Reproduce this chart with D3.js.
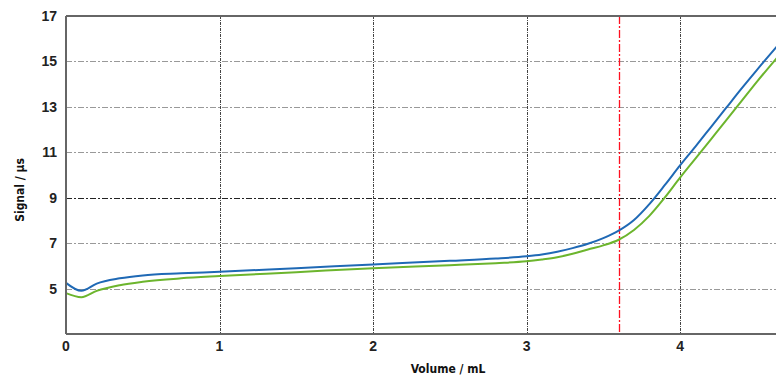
<!DOCTYPE html>
<html>
<head>
<meta charset="utf-8">
<script src="https://cdn.jsdelivr.net/npm/d3@7"></script>
<style>
  body { margin: 0; background: #fff; }
  text { font-family: "Liberation Sans", Arial, sans-serif; }
</style>
</head>
<body>
<div id="chart"></div>
<script>
const WIDTH = 776;
const HEIGHT = 376;

// volume (mL) and the two signal traces (µs)
const volumes = [0, 0.1, 0.2, 0.35, 0.5, 0.75, 1.0, 1.5, 2.0, 2.5, 2.8, 3.0, 3.1, 3.2, 3.3, 3.4, 3.5, 3.6, 3.7, 3.8, 3.9, 4.0, 4.1, 4.2, 4.3, 4.4, 4.5, 4.63];
const blueSignal = [5.25, 4.9, 5.22, 5.45, 5.58, 5.67, 5.74, 5.9, 6.06, 6.22, 6.32, 6.42, 6.5, 6.62, 6.78, 6.97, 7.22, 7.55, 8.02, 8.72, 9.55, 10.42, 11.25, 12.1, 12.95, 13.8, 14.62, 15.65];
const greenSignal = [4.8, 4.62, 4.9, 5.15, 5.3, 5.45, 5.55, 5.72, 5.9, 6.03, 6.12, 6.2, 6.28, 6.38, 6.53, 6.72, 6.9, 7.15, 7.58, 8.2, 9.0, 9.88, 10.72, 11.56, 12.4, 13.25, 14.1, 15.15];

const xTicks = [0, 1, 2, 3, 4];
const yTicks = [5, 7, 9, 11, 13, 15, 17];
const endpointVolume = 3.6;

const margin = {top: 16, right: 0, bottom: 42, left: 66};

const svg = d3.select("#chart")
  .append("svg")
  .attr("width", WIDTH)
  .attr("height", HEIGHT);

const x = d3.scaleLinear()
  .domain([0, 4.625])
  .range([margin.left, WIDTH - margin.right]);

const y = d3.scaleLinear()
  .domain([3, 17])
  .range([HEIGHT - margin.bottom, margin.top]);

// horizontal grid
svg.append("g")
  .selectAll("line")
  .data(yTicks.filter(d => d !== 17))
  .join("line")
  .attr("x1", x(0))
  .attr("x2", WIDTH)
  .attr("y1", d => Math.round(y(d)) + 0.5)
  .attr("y2", d => Math.round(y(d)) + 0.5)
  .attr("stroke", d => d === 9 ? "#222" : "#999")
  .attr("stroke-width", 1)
  .attr("stroke-dasharray", "6,2,2,2");

// vertical grid
svg.append("g")
  .selectAll("line")
  .data(xTicks.filter(d => d !== 0))
  .join("line")
  .attr("x1", d => Math.round(x(d)) + 0.5)
  .attr("x2", d => Math.round(x(d)) + 0.5)
  .attr("y1", y(17))
  .attr("y2", y(3))
  .attr("stroke", "#444")
  .attr("stroke-width", 1)
  .attr("stroke-dasharray", "3,1,1,1");

// endpoint marker
svg.append("line")
  .attr("x1", Math.round(x(endpointVolume)) + 0.5)
  .attr("x2", Math.round(x(endpointVolume)) + 0.5)
  .attr("y1", y(17))
  .attr("y2", y(3))
  .attr("stroke", "#ff1020")
  .attr("stroke-width", 1.3)
  .attr("stroke-dasharray", "8,2,2,2");

// traces
const line = d3.line()
  .x((d, i) => x(volumes[i]))
  .y(d => y(d))
  .curve(d3.curveMonotoneX);

svg.append("path")
  .datum(greenSignal)
  .attr("fill", "none")
  .attr("stroke", "#6cb52d")
  .attr("stroke-width", 2)
  .attr("d", line);

svg.append("path")
  .datum(blueSignal)
  .attr("fill", "none")
  .attr("stroke", "#1f69b5")
  .attr("stroke-width", 2)
  .attr("d", line);

// frame: left, bottom, top
const frame = svg.append("g")
  .attr("stroke", "#666")
  .attr("stroke-width", 2);
frame.append("line").attr("x1", x(0)).attr("x2", x(0)).attr("y1", y(17)).attr("y2", y(3));
frame.append("line").attr("x1", x(0)).attr("x2", WIDTH).attr("y1", y(3)).attr("y2", y(3));
frame.append("line").attr("x1", x(0)).attr("x2", WIDTH).attr("y1", y(17)).attr("y2", y(17));

// tick labels
svg.append("g")
  .selectAll("text")
  .data(yTicks)
  .join("text")
  .attr("x", 57)
  .attr("y", d => y(d) + 5)
  .attr("text-anchor", "end")
  .attr("font-size", 14)
  .attr("font-weight", "bold")
  .attr("fill", "#222")
  .text(d => d);

svg.append("g")
  .selectAll("text")
  .data(xTicks)
  .join("text")
  .attr("x", d => x(d))
  .attr("y", 351)
  .attr("text-anchor", "middle")
  .attr("font-size", 14)
  .attr("font-weight", "bold")
  .attr("fill", "#222")
  .text(d => d);

// axis titles
svg.append("text")
  .attr("x", 448)
  .attr("y", 373)
  .attr("text-anchor", "middle")
  .attr("font-size", 12)
  .attr("font-weight", "bold")
  .style("font-family", "'DejaVu Sans Condensed', 'DejaVu Sans', sans-serif")
  .attr("fill", "#111")
  .text("Volume / mL");

svg.append("text")
  .attr("transform", "translate(24,190) rotate(-90)")
  .attr("text-anchor", "middle")
  .attr("font-size", 12)
  .attr("font-weight", "bold")
  .style("font-family", "'DejaVu Sans Condensed', 'DejaVu Sans', sans-serif")
  .attr("fill", "#111")
  .text("Signal / µs");
</script>
</body>
</html>
